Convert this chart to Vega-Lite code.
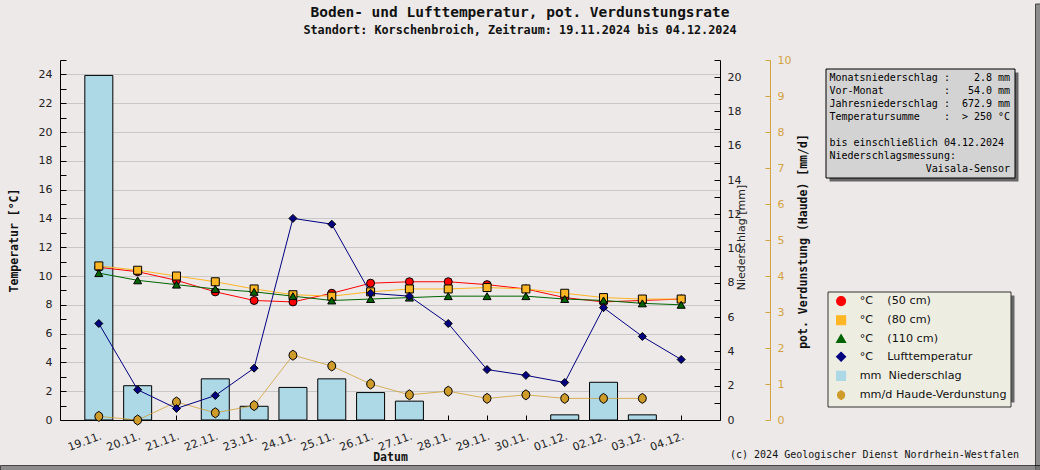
{
  "$schema": "https://vega.github.io/schema/vega-lite/v6.json",
  "width": 660,
  "height": 360,
  "autosize": "none",
  "padding": {"left": 60, "top": 60, "right": 320, "bottom": 50},
  "background": "#ECE9E8",
  "config": {"view": {"stroke": null, "fill": "white"}, "font": "DejaVu Sans"},
  "title": {
    "text": "Boden- und Lufttemperatur, pot. Verdunstungsrate",
    "subtitle": "Standort: Korschenbroich, Zeitraum: 19.11.2024 bis 04.12.2024",
    "anchor": "middle", "frame": "group", "dx": 130, "offset": -34,
    "font": "DejaVu Sans Mono", "fontSize": 14.5, "fontWeight": "bold", "color": "#111111",
    "subtitleFont": "DejaVu Sans Mono", "subtitleFontSize": 11.8, "subtitleFontWeight": "bold", "subtitleColor": "#111111", "subtitlePadding": 5
  },
  "datasets": {
    "main": [
      {"d":"19.11.","s":"°C\u00a0\u00a0\u00a0\u00a0(50 cm)","v":10.6},
      {"d":"20.11.","s":"°C\u00a0\u00a0\u00a0\u00a0(50 cm)","v":10.3},
      {"d":"21.11.","s":"°C\u00a0\u00a0\u00a0\u00a0(50 cm)","v":9.7},
      {"d":"22.11.","s":"°C\u00a0\u00a0\u00a0\u00a0(50 cm)","v":8.9},
      {"d":"23.11.","s":"°C\u00a0\u00a0\u00a0\u00a0(50 cm)","v":8.3},
      {"d":"24.11.","s":"°C\u00a0\u00a0\u00a0\u00a0(50 cm)","v":8.2},
      {"d":"25.11.","s":"°C\u00a0\u00a0\u00a0\u00a0(50 cm)","v":8.8},
      {"d":"26.11.","s":"°C\u00a0\u00a0\u00a0\u00a0(50 cm)","v":9.5},
      {"d":"27.11.","s":"°C\u00a0\u00a0\u00a0\u00a0(50 cm)","v":9.6},
      {"d":"28.11.","s":"°C\u00a0\u00a0\u00a0\u00a0(50 cm)","v":9.6},
      {"d":"29.11.","s":"°C\u00a0\u00a0\u00a0\u00a0(50 cm)","v":9.4},
      {"d":"30.11.","s":"°C\u00a0\u00a0\u00a0\u00a0(50 cm)","v":9.1},
      {"d":"01.12.","s":"°C\u00a0\u00a0\u00a0\u00a0(50 cm)","v":8.5},
      {"d":"02.12.","s":"°C\u00a0\u00a0\u00a0\u00a0(50 cm)","v":8.2},
      {"d":"03.12.","s":"°C\u00a0\u00a0\u00a0\u00a0(50 cm)","v":8.3},
      {"d":"04.12.","s":"°C\u00a0\u00a0\u00a0\u00a0(50 cm)","v":8.4},
      {"d":"19.11.","s":"°C\u00a0\u00a0\u00a0\u00a0(80 cm)","v":10.7},
      {"d":"20.11.","s":"°C\u00a0\u00a0\u00a0\u00a0(80 cm)","v":10.4},
      {"d":"21.11.","s":"°C\u00a0\u00a0\u00a0\u00a0(80 cm)","v":10.0},
      {"d":"22.11.","s":"°C\u00a0\u00a0\u00a0\u00a0(80 cm)","v":9.6},
      {"d":"23.11.","s":"°C\u00a0\u00a0\u00a0\u00a0(80 cm)","v":9.1},
      {"d":"24.11.","s":"°C\u00a0\u00a0\u00a0\u00a0(80 cm)","v":8.7},
      {"d":"25.11.","s":"°C\u00a0\u00a0\u00a0\u00a0(80 cm)","v":8.6},
      {"d":"26.11.","s":"°C\u00a0\u00a0\u00a0\u00a0(80 cm)","v":8.9},
      {"d":"27.11.","s":"°C\u00a0\u00a0\u00a0\u00a0(80 cm)","v":9.1},
      {"d":"28.11.","s":"°C\u00a0\u00a0\u00a0\u00a0(80 cm)","v":9.1},
      {"d":"29.11.","s":"°C\u00a0\u00a0\u00a0\u00a0(80 cm)","v":9.2},
      {"d":"30.11.","s":"°C\u00a0\u00a0\u00a0\u00a0(80 cm)","v":9.1},
      {"d":"01.12.","s":"°C\u00a0\u00a0\u00a0\u00a0(80 cm)","v":8.8},
      {"d":"02.12.","s":"°C\u00a0\u00a0\u00a0\u00a0(80 cm)","v":8.5},
      {"d":"03.12.","s":"°C\u00a0\u00a0\u00a0\u00a0(80 cm)","v":8.4},
      {"d":"04.12.","s":"°C\u00a0\u00a0\u00a0\u00a0(80 cm)","v":8.4},
      {"d":"19.11.","s":"°C\u00a0\u00a0\u00a0\u00a0(110 cm)","v":10.2},
      {"d":"20.11.","s":"°C\u00a0\u00a0\u00a0\u00a0(110 cm)","v":9.7},
      {"d":"21.11.","s":"°C\u00a0\u00a0\u00a0\u00a0(110 cm)","v":9.4},
      {"d":"22.11.","s":"°C\u00a0\u00a0\u00a0\u00a0(110 cm)","v":9.1},
      {"d":"23.11.","s":"°C\u00a0\u00a0\u00a0\u00a0(110 cm)","v":8.9},
      {"d":"24.11.","s":"°C\u00a0\u00a0\u00a0\u00a0(110 cm)","v":8.6},
      {"d":"25.11.","s":"°C\u00a0\u00a0\u00a0\u00a0(110 cm)","v":8.3},
      {"d":"26.11.","s":"°C\u00a0\u00a0\u00a0\u00a0(110 cm)","v":8.4},
      {"d":"27.11.","s":"°C\u00a0\u00a0\u00a0\u00a0(110 cm)","v":8.5},
      {"d":"28.11.","s":"°C\u00a0\u00a0\u00a0\u00a0(110 cm)","v":8.6},
      {"d":"29.11.","s":"°C\u00a0\u00a0\u00a0\u00a0(110 cm)","v":8.6},
      {"d":"30.11.","s":"°C\u00a0\u00a0\u00a0\u00a0(110 cm)","v":8.6},
      {"d":"01.12.","s":"°C\u00a0\u00a0\u00a0\u00a0(110 cm)","v":8.4},
      {"d":"02.12.","s":"°C\u00a0\u00a0\u00a0\u00a0(110 cm)","v":8.3},
      {"d":"03.12.","s":"°C\u00a0\u00a0\u00a0\u00a0(110 cm)","v":8.1},
      {"d":"04.12.","s":"°C\u00a0\u00a0\u00a0\u00a0(110 cm)","v":8.0},
      {"d":"19.11.","s":"°C\u00a0\u00a0\u00a0\u00a0Lufttemperatur","v":6.7},
      {"d":"20.11.","s":"°C\u00a0\u00a0\u00a0\u00a0Lufttemperatur","v":2.1},
      {"d":"21.11.","s":"°C\u00a0\u00a0\u00a0\u00a0Lufttemperatur","v":0.8},
      {"d":"22.11.","s":"°C\u00a0\u00a0\u00a0\u00a0Lufttemperatur","v":1.7},
      {"d":"23.11.","s":"°C\u00a0\u00a0\u00a0\u00a0Lufttemperatur","v":3.6},
      {"d":"24.11.","s":"°C\u00a0\u00a0\u00a0\u00a0Lufttemperatur","v":14.0},
      {"d":"25.11.","s":"°C\u00a0\u00a0\u00a0\u00a0Lufttemperatur","v":13.6},
      {"d":"26.11.","s":"°C\u00a0\u00a0\u00a0\u00a0Lufttemperatur","v":8.8},
      {"d":"27.11.","s":"°C\u00a0\u00a0\u00a0\u00a0Lufttemperatur","v":8.6},
      {"d":"28.11.","s":"°C\u00a0\u00a0\u00a0\u00a0Lufttemperatur","v":6.7},
      {"d":"29.11.","s":"°C\u00a0\u00a0\u00a0\u00a0Lufttemperatur","v":3.5},
      {"d":"30.11.","s":"°C\u00a0\u00a0\u00a0\u00a0Lufttemperatur","v":3.1},
      {"d":"01.12.","s":"°C\u00a0\u00a0\u00a0\u00a0Lufttemperatur","v":2.6},
      {"d":"02.12.","s":"°C\u00a0\u00a0\u00a0\u00a0Lufttemperatur","v":7.8},
      {"d":"03.12.","s":"°C\u00a0\u00a0\u00a0\u00a0Lufttemperatur","v":5.8},
      {"d":"04.12.","s":"°C\u00a0\u00a0\u00a0\u00a0Lufttemperatur","v":4.2},
      {"d":"19.11.","s":"mm\u00a0\u00a0Niederschlag","v":20.1},
      {"d":"20.11.","s":"mm\u00a0\u00a0Niederschlag","v":2.0},
      {"d":"22.11.","s":"mm\u00a0\u00a0Niederschlag","v":2.4},
      {"d":"23.11.","s":"mm\u00a0\u00a0Niederschlag","v":0.8},
      {"d":"24.11.","s":"mm\u00a0\u00a0Niederschlag","v":1.9},
      {"d":"25.11.","s":"mm\u00a0\u00a0Niederschlag","v":2.4},
      {"d":"26.11.","s":"mm\u00a0\u00a0Niederschlag","v":1.6},
      {"d":"27.11.","s":"mm\u00a0\u00a0Niederschlag","v":1.1},
      {"d":"01.12.","s":"mm\u00a0\u00a0Niederschlag","v":0.3},
      {"d":"02.12.","s":"mm\u00a0\u00a0Niederschlag","v":2.2},
      {"d":"03.12.","s":"mm\u00a0\u00a0Niederschlag","v":0.3},
      {"d":"19.11.","s":"mm/d Haude-Verdunstung","v":0.1},
      {"d":"20.11.","s":"mm/d Haude-Verdunstung","v":0.0},
      {"d":"21.11.","s":"mm/d Haude-Verdunstung","v":0.5},
      {"d":"22.11.","s":"mm/d Haude-Verdunstung","v":0.2},
      {"d":"23.11.","s":"mm/d Haude-Verdunstung","v":0.4},
      {"d":"24.11.","s":"mm/d Haude-Verdunstung","v":1.8},
      {"d":"25.11.","s":"mm/d Haude-Verdunstung","v":1.5},
      {"d":"26.11.","s":"mm/d Haude-Verdunstung","v":1.0},
      {"d":"27.11.","s":"mm/d Haude-Verdunstung","v":0.7},
      {"d":"28.11.","s":"mm/d Haude-Verdunstung","v":0.8},
      {"d":"29.11.","s":"mm/d Haude-Verdunstung","v":0.6},
      {"d":"30.11.","s":"mm/d Haude-Verdunstung","v":0.7},
      {"d":"01.12.","s":"mm/d Haude-Verdunstung","v":0.6},
      {"d":"02.12.","s":"mm/d Haude-Verdunstung","v":0.6},
      {"d":"03.12.","s":"mm/d Haude-Verdunstung","v":0.6}
    ],
    "info": [
      {"z": "Monatsniederschlag\u00a0:\u00a0\u00a0\u00a0\u00a02.8\u00a0mm"},
      {"z": "Vor-Monat\u00a0\u00a0\u00a0\u00a0\u00a0\u00a0\u00a0\u00a0\u00a0\u00a0:\u00a0\u00a0\u00a054.0\u00a0mm"},
      {"z": "Jahresniederschlag\u00a0:\u00a0\u00a0672.9\u00a0mm"},
      {"z": "Temperatursumme\u00a0\u00a0\u00a0\u00a0:\u00a0\u00a0>\u00a0250\u00a0°C"},
      {"z": "\u200b\u00a0"},
      {"z": "bis\u00a0einschließlich\u00a004.12.2024"},
      {"z": "Niederschlagsmessung:"},
      {"z": "\u200b\u00a0\u00a0\u00a0\u00a0\u00a0\u00a0\u00a0\u00a0\u00a0\u00a0\u00a0\u00a0\u00a0\u00a0\u00a0\u00a0Vaisala-Sensor"}
    ]
  },
  "layer": [
    {
      "data": {"name": "main"},
      "encoding": {
        "x": {
          "field": "d", "type": "ordinal",
          "scale": {"type": "point", "padding": 1, "domain": ["19.11.","20.11.","21.11.","22.11.","23.11.","24.11.","25.11.","26.11.","27.11.","28.11.","29.11.","30.11.","01.12.","02.12.","03.12.","04.12."]},
          "axis": {
            "title": "Datum", "titleFont": "DejaVu Sans Mono", "titleFontSize": 11.5, "titleFontWeight": "bold", "titleColor": "#111111",
            "titleY": 40, "titleBaseline": "alphabetic",
            "labelAngle": -20, "labelAlign": "right", "labelBaseline": "top", "labelFont": "DejaVu Sans", "labelFontSize": 11, "labelColor": "#222222", "labelPadding": 15,
            "tickSize": -5, "tickColor": "black", "domainColor": "black", "grid": false, "labelOverlap": false
          }
        },
        "color": {
          "field": "s", "type": "nominal",
          "scale": {
            "domain": ["°C\u00a0\u00a0\u00a0\u00a0(50 cm)","°C\u00a0\u00a0\u00a0\u00a0(80 cm)","°C\u00a0\u00a0\u00a0\u00a0(110 cm)","°C\u00a0\u00a0\u00a0\u00a0Lufttemperatur","mm\u00a0\u00a0Niederschlag","mm/d Haude-Verdunstung"],
            "range": ["#FF0000","#FFB624","#006400","#000080","#ADD8E6","#CF9C2A"]
          },
          "legend": {
            "orient": "none", "legendX": 767.5, "legendY": 231.5, "direction": "vertical", "title": null,
            "fillColor": "#EEEDE2", "strokeColor": "#333333", "padding": 4, "symbolOffset": 4,
            "labelFont": "DejaVu Sans", "labelFontSize": 11.2, "labelColor": "#111111", "labelLimit": 400, "labelOffset": 13,
            "rowPadding": 4.2, "symbolSize": 80, "symbolStrokeWidth": 1, "zindex": 1,
            "encode": {"symbols": {"update": {
              "shape": {"signal": "indexof(datum.value, '(50 cm)') > 0 ? 'M-2,0H-1.1M1.1,0H2M1.1,0L0.78,0.78L0,1.1L-0.78,0.78L-1.1,0L-0.78,-0.78L0,-1.1L0.78,-0.78Z' : indexof(datum.value, '(80 cm)') > 0 ? 'M-2,0H-0.9M0.9,0H2M-0.9,-0.9H0.9V0.9H-0.9Z' : indexof(datum.value, '(110 cm)') > 0 ? 'M-2,0H-0.57M0.57,0H2M0,-1L1,0.75H-1Z' : indexof(datum.value, 'Luft') > 0 ? 'M-2,0H-1.1M1.1,0H2M0,-1.1L1.1,0L0,1.1L-1.1,0Z' : indexof(datum.value, 'Niederschlag') > 0 ? 'M-1.1,-1.1H1.1V1.1H-1.1Z' : 'M-2,0H-0.85M0.85,0H2M0,-1.1L0.7,-0.6L0.85,0L0.7,0.6L0,1.1L-0.7,0.6L-0.85,0L-0.7,-0.6Z'"},
              "fill": {"scale": "color", "field": "value"},
              "stroke": {"scale": "color", "field": "value"},
              "strokeWidth": {"value": 1.2},
              "opacity": {"value": 1}
            }}}
          }
        }
      },
      "layer": [
        {
          "transform": [{"filter": "indexof(datum.s, 'Niederschlag') > 0"}],
          "mark": {"type": "bar", "size": 28, "stroke": "black", "strokeWidth": 1},
          "encoding": {
            "y": {
              "field": "v", "type": "quantitative",
              "scale": {"domain": [0, 21], "nice": false},
              "axis": {
                "orient": "right", "values": [0,1,2,3,4,5,6,7,8,9,10,11,12,13,14,15,16,17,18,19,20,21],
                "labelExpr": "datum.value % 2 ? '' : datum.label",
                "title": "Niederschlag [mm]", "titleFont": "DejaVu Sans", "titleFontSize": 11, "titleFontWeight": "normal", "titleColor": "#222222",
                "titleAngle": 270, "titleX": 21.5, "titleY": 177, "titleAlign": "center", "titleBaseline": "middle",
                "tickSize": -6, "labelPadding": 13, "labelFont": "DejaVu Sans", "labelFontSize": 11, "labelColor": "#222222",
                "tickColor": "black", "domainColor": "black", "grid": false, "labelOverlap": false,
                "encode": {"ticks": {"update": {"x2": {"signal": "datum.value % 2 ? -3.5 : -6"}}}}
              }
            }
          }
        },
        {
          "transform": [{"filter": "indexof(datum.s, 'Haude') > 0"}],
          "encoding": {
            "y": {
              "field": "v", "type": "quantitative",
              "scale": {"domain": [0, 10], "nice": false},
              "axis": {
                "orient": "right", "offset": 50, "values": [0,1,2,3,4,5,6,7,8,9,10],
                "title": "pot. Verdunstung (Haude) [mm/d]", "titleFont": "DejaVu Sans Mono", "titleFontSize": 11.5, "titleFontWeight": "bold", "titleColor": "#111111",
                "titleAngle": 270, "titleX": 33, "titleY": 181, "titleAlign": "center", "titleBaseline": "middle",
                "tickSize": -5, "labelPadding": 12, "labelFont": "DejaVu Sans", "labelFontSize": 11,
                "labelColor": "#D4A23F", "tickColor": "#D4A23F", "domainColor": "#D4A23F", "grid": false, "labelOverlap": false
              }
            }
          },
          "layer": [
            {"mark": {"type": "line", "strokeWidth": 1, "opacity": 0.75}},
            {
              "mark": {"type": "point", "filled": true, "size": 100, "stroke": "black", "strokeWidth": 1, "opacity": 1},
              "encoding": {
                "shape": {
                  "field": "s", "type": "nominal", "legend": null,
                  "scale": {
                    "domain": ["°C\u00a0\u00a0\u00a0\u00a0(50 cm)","°C\u00a0\u00a0\u00a0\u00a0(80 cm)","°C\u00a0\u00a0\u00a0\u00a0(110 cm)","°C\u00a0\u00a0\u00a0\u00a0Lufttemperatur","mm\u00a0\u00a0Niederschlag","mm/d Haude-Verdunstung"],
                    "range": ["circle","square","triangle-up","diamond","square","M0,-1L0.65,-0.55L0.8,0L0.65,0.55L0,1L-0.65,0.55L-0.8,0L-0.65,-0.55Z"]
                  }
                }
              }
            }
          ]
        },
        {
          "transform": [{"filter": "indexof(datum.s, '°C') === 0"}],
          "encoding": {
            "y": {
              "field": "v", "type": "quantitative",
              "scale": {"domain": [0, 25], "nice": false},
              "axis": {
                "orient": "left", "values": [0,1,2,3,4,5,6,7,8,9,10,11,12,13,14,15,16,17,18,19,20,21,22,23,24,25],
                "labelExpr": "datum.value % 2 ? '' : datum.label",
                "title": "Temperatur [°C]", "titleFont": "DejaVu Sans Mono", "titleFontSize": 11.5, "titleFontWeight": "bold", "titleColor": "#111111",
                "titleAngle": 270, "titleX": -46, "titleY": 180, "titleAlign": "center", "titleBaseline": "middle",
                "tickSize": -6, "labelPadding": 14, "labelFont": "DejaVu Sans", "labelFontSize": 11, "labelColor": "#222222",
                "grid": true, "gridColor": "#C8C8C8", "gridWidth": 1,
                "gridOpacity": {"condition": {"test": "datum.value % 2 == 1 || datum.value == 0", "value": 0}, "value": 1},
                "tickColor": "black", "domainColor": "black", "labelOverlap": false,
                "encode": {"ticks": {"update": {"x2": {"signal": "datum.value % 2 ? 3.5 : 6"}}}}
              }
            }
          },
          "layer": [
            {"mark": {"type": "line", "strokeWidth": 1}},
            {
              "mark": {"type": "point", "filled": true, "size": 64, "stroke": "black", "strokeWidth": 1, "opacity": 1},
              "encoding": {
                "shape": {
                  "field": "s", "type": "nominal", "legend": null,
                  "scale": {
                    "domain": ["°C\u00a0\u00a0\u00a0\u00a0(50 cm)","°C\u00a0\u00a0\u00a0\u00a0(80 cm)","°C\u00a0\u00a0\u00a0\u00a0(110 cm)","°C\u00a0\u00a0\u00a0\u00a0Lufttemperatur","mm\u00a0\u00a0Niederschlag","mm/d Haude-Verdunstung"],
                    "range": ["circle","square","triangle-up","diamond","square","M0,-1L0.65,-0.55L0.8,0L0.65,0.55L0,1L-0.65,0.55L-0.8,0L-0.65,-0.55Z"]
                  }
                }
              }
            }
          ]
        }
      ],
      "resolve": {"scale": {"y": "independent"}}
    },
    {
      "data": {"name": "main"},
      "mark": {"type": "point", "size": 0, "filled": true},
      "encoding": {
        "fill": {
          "field": "v", "type": "quantitative",
          "scale": {"domain": [0, 1], "range": ["#676767", "#676767"]},
          "legend": {
            "orient": "none", "direction": "vertical", "legendX": 975.5, "legendY": -56, "title": null,
            "gradientLength": 480, "gradientThickness": 12, "gradientStrokeColor": "black", "gradientStrokeWidth": 1,
            "values": [], "labelOpacity": 0, "padding": 0
          }
        },
        "stroke": {
          "field": "v", "type": "quantitative",
          "scale": {"domain": [0, 2], "range": ["#676767", "#676767"]},
          "legend": {
            "orient": "none", "direction": "horizontal", "legendX": -59.5, "legendY": 405.5, "title": null,
            "gradientLength": 1100, "gradientThickness": 12, "gradientStrokeColor": "black", "gradientStrokeWidth": 1,
            "values": [], "labelOpacity": 0, "padding": 0
          }
        }
      }
    },
    {
      "data": {"name": "info"},
      "mark": {"type": "point", "opacity": 0},
      "encoding": {
        "strokeDash": {
          "field": "z", "type": "nominal",
          "scale": {
            "domain": [
              "Monatsniederschlag\u00a0:\u00a0\u00a0\u00a0\u00a02.8\u00a0mm",
              "Vor-Monat\u00a0\u00a0\u00a0\u00a0\u00a0\u00a0\u00a0\u00a0\u00a0\u00a0:\u00a0\u00a0\u00a054.0\u00a0mm",
              "Jahresniederschlag\u00a0:\u00a0\u00a0672.9\u00a0mm",
              "Temperatursumme\u00a0\u00a0\u00a0\u00a0:\u00a0\u00a0>\u00a0250\u00a0°C",
              "\u200b\u00a0",
              "bis\u00a0einschließlich\u00a004.12.2024",
              "Niederschlagsmessung:",
              "\u200b\u00a0\u00a0\u00a0\u00a0\u00a0\u00a0\u00a0\u00a0\u00a0\u00a0\u00a0\u00a0\u00a0\u00a0\u00a0\u00a0Vaisala-Sensor"
            ],
            "range": [[1, 0]]
          },
          "legend": {
            "orient": "none", "legendX": 765.5, "legendY": 8.5, "direction": "vertical", "title": null,
            "fillColor": "#D3D3D3", "strokeColor": "black", "padding": 4,
            "labelFont": "DejaVu Sans Mono", "labelFontSize": 10, "labelColor": "black", "labelLimit": 400, "labelOffset": -10,
            "rowPadding": 3, "symbolOpacity": 0, "symbolSize": 0.01, "symbolStrokeWidth": 0, "zindex": 1,
            "encode": {"symbols": {"update": {"size": {"value": 0.01}, "opacity": {"value": 0}}}}
          }
        }
      }
    },
    {
      "data": {"name": "info"},
      "mark": {"type": "point", "size": 0, "filled": true, "color": "#676767"},
      "encoding": {
        "strokeDash": {
          "field": "z", "type": "nominal",
          "scale": {"domain": ["s1"], "range": [[1, 0]]},
          "legend": {
            "orient": "none", "legendX": 769.5, "legendY": -27.5, "direction": "vertical", "title": null,
            "padding": 0, "symbolOffset": 0, "labelOpacity": 0, "labelFontSize": 1,
            "symbolSize": 35721, "symbolType": "M-1,-0.5767H1V0.5767H-1Z", "symbolStrokeWidth": 0, "symbolOpacity": 1,
            "zindex": 0,
            "encode": {"symbols": {"update": {
              "shape": {"value": "M-1,-0.5767H1V0.5767H-1Z"},
              "size": {"value": 35721},
              "fill": {"value": "#676767"},
              "fillOpacity": {"value": 1},
              "stroke": {"value": "transparent"},
              "strokeWidth": {"value": 0},
              "opacity": {"value": 1}
            }}}
          }
        }
      }
    },
    {
      "data": {"name": "info"},
      "mark": {"type": "point", "size": 0, "filled": true, "color": "#676767"},
      "encoding": {
        "strokeDash": {
          "field": "z", "type": "nominal",
          "scale": {"domain": ["s2"], "range": [[1, 0]]},
          "legend": {
            "orient": "none", "legendX": 771.5, "legendY": 197.5, "direction": "vertical", "title": null,
            "padding": 0, "symbolOffset": 0, "labelOpacity": 0, "labelFontSize": 1,
            "symbolSize": 33489, "symbolType": "M-1,-0.5847H1V0.5847H-1Z", "symbolStrokeWidth": 0, "symbolOpacity": 1,
            "zindex": 0,
            "encode": {"symbols": {"update": {
              "shape": {"value": "M-1,-0.5847H1V0.5847H-1Z"},
              "size": {"value": 33489},
              "fill": {"value": "#676767"},
              "fillOpacity": {"value": 1},
              "stroke": {"value": "transparent"},
              "strokeWidth": {"value": 0},
              "opacity": {"value": 1}
            }}}
          }
        }
      }
    },
    {
      "data": {"name": "info"},
      "mark": {"type": "point", "opacity": 0},
      "encoding": {
        "strokeDash": {
          "field": "z", "type": "nominal",
          "scale": {"domain": ["c"], "range": [[1, 0]]},
          "legend": {
            "orient": "none", "legendX": 670, "legendY": 390, "direction": "vertical",
            "title": "(c) 2024 Geologischer Dienst Nordrhein-Westfalen",
            "titleFont": "DejaVu Sans Mono", "titleFontSize": 10, "titleFontWeight": "normal", "titleColor": "#111111", "titleLimit": 500,
            "labelOpacity": 0, "labelFontSize": 1, "symbolOpacity": 0, "symbolSize": 0.01, "padding": 0
          }
        }
      }
    }
  ],
  "resolve": {"scale": {"strokeDash": "independent"}}
}
